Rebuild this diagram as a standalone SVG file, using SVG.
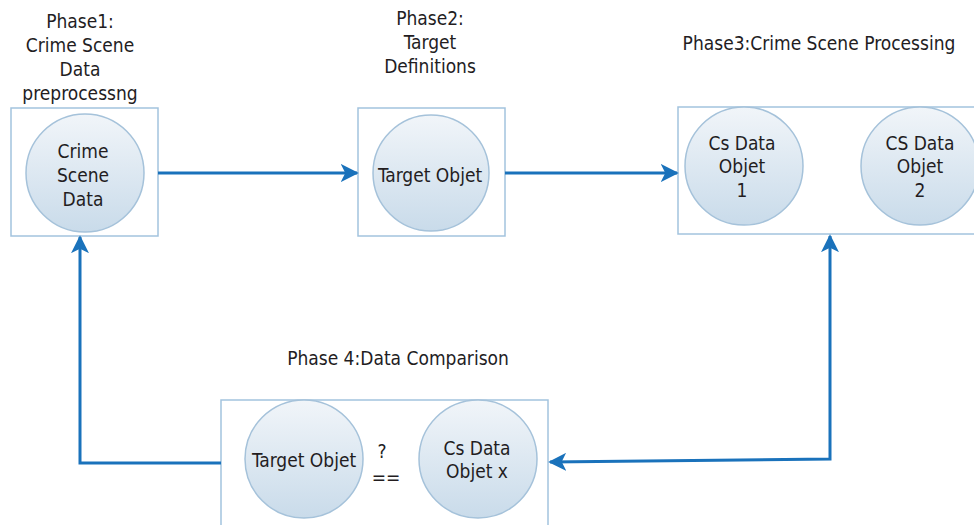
<svg xmlns="http://www.w3.org/2000/svg" width="974" height="525" viewBox="0 0 974 525">
<defs>
<linearGradient id="cg" x1="0" y1="0" x2="0" y2="1">
<stop offset="0" stop-color="#f1f5f9"/>
<stop offset="1" stop-color="#c9dbea"/>
</linearGradient>
<marker id="ah" viewBox="0 0 10 10" refX="9" refY="5" markerWidth="6" markerHeight="6" orient="auto-start-reverse" markerUnits="strokeWidth">
<path d="M0,0 L10,5 L0,10 L2.5,5 Z" fill="#1a72bb"/>
</marker>
<style>
.box{fill:#fff;stroke:#a3c3de;stroke-width:1.5}
.c{fill:url(#cg);stroke:#a5c2da;stroke-width:1.5}
text{font-family:"DejaVu Sans Condensed","DejaVu Sans",sans-serif;font-size:19px;fill:#231d1f;text-anchor:middle}
.ln{fill:none;stroke:#1a72bb;stroke-width:3}
</style>
</defs>
<rect width="974" height="525" fill="#fff"/>
<g id="phase1">
<text x="80" y="28">Phase1:</text>
<text x="80" y="52">Crime Scene</text>
<text x="80" y="76">Data</text>
<text x="80" y="100">preprocessng</text>
<rect class="box" x="11" y="108" width="147" height="128"/>
<g id="crime-scene-data">
<circle class="c" cx="85" cy="173" r="59"/>
<text x="83" y="158">Crime</text>
<text x="83" y="182">Scene</text>
<text x="83" y="206">Data</text>
</g>
</g>
<g id="phase2">
<text x="430" y="25">Phase2:</text>
<text x="430" y="49">Target</text>
<text x="430" y="73">Definitions</text>
<rect class="box" x="358" y="108" width="147" height="128"/>
<g id="target-objet">
<circle class="c" cx="431" cy="173" r="58"/>
<text x="430" y="182">Target Objet</text>
</g>
</g>
<g id="phase3">
<text x="819" y="50">Phase3:Crime Scene Processing</text>
<rect class="box" x="678" y="107" width="310" height="127"/>
<g id="cs-data-objet-1">
<circle class="c" cx="744" cy="166" r="59"/>
<text x="742" y="150">Cs Data</text>
<text x="742" y="173">Objet</text>
<text x="742" y="197">1</text>
</g>
<g id="cs-data-objet-2">
<circle class="c" cx="920" cy="166" r="59"/>
<text x="920" y="150">CS Data</text>
<text x="920" y="173">Objet</text>
<text x="920" y="197">2</text>
</g>
</g>
<g id="phase4">
<text x="398" y="365">Phase 4:Data Comparison</text>
<rect class="box" x="221" y="400" width="327" height="140"/>
<g id="target-objet-2">
<circle class="c" cx="304" cy="459" r="59"/>
<text x="304" y="467">Target Objet</text>
</g>
<text x="382" y="458">?</text>
<text x="386" y="484">==</text>
<g id="cs-data-objet-x">
<circle class="c" cx="478" cy="459" r="59"/>
<text x="477" y="455">Cs Data</text>
<text x="477" y="478">Objet x</text>
</g>
</g>
<g id="connectors">
<path class="ln" d="M158,173 H357" marker-end="url(#ah)"/>
<path class="ln" d="M505,173 H677" marker-end="url(#ah)"/>
<path class="ln" d="M221,463 H80 V237" marker-end="url(#ah)"/>
<path class="ln" d="M550,462 L830,459 V236" marker-start="url(#ah)" marker-end="url(#ah)"/>
</g>
</svg>
